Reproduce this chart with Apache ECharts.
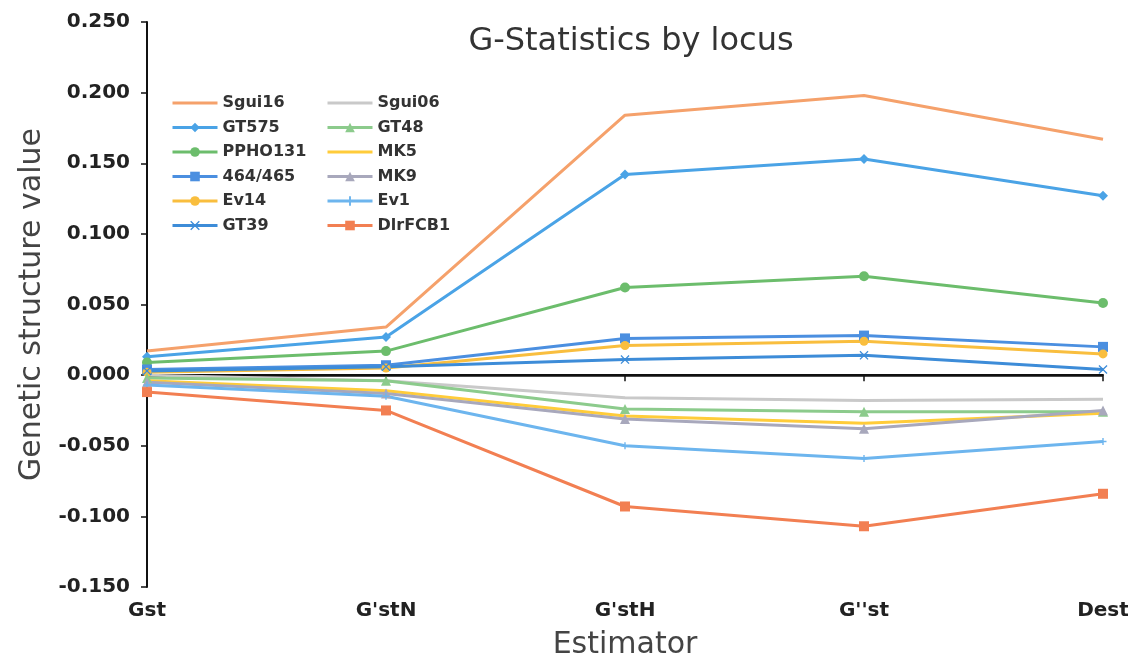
<!DOCTYPE html>
<html><head><meta charset="utf-8">
<script src="https://cdn.jsdelivr.net/npm/echarts@6/dist/echarts.min.js"></script>
<style>html,body{margin:0;padding:0;background:#fff}#c{width:1128px;height:661px}</style>
</head><body><div id="c"></div>
<script>
var categories = ["Gst", "G'stN", "G'stH", "G''st", "Dest"];
var yTicks = [-0.15, -0.1, -0.05, 0, 0.05, 0.1, 0.15, 0.2, 0.25];

var Sgui16  = [0.017, 0.034, 0.184, 0.198, 0.167];
var GT575   = [0.013, 0.027, 0.142, 0.153, 0.127];
var PPHO131 = [0.009, 0.017, 0.062, 0.070, 0.051];
var L464_465= [0.004, 0.007, 0.026, 0.028, 0.020];
var Ev14    = [0.002, 0.005, 0.021, 0.024, 0.015];
var GT39    = [0.003, 0.006, 0.011, 0.014, 0.004];
var Sgui06  = [0.000, -0.004, -0.016, -0.018, -0.017];
var GT48    = [-0.002, -0.004, -0.024, -0.026, -0.026];
var MK5     = [-0.004, -0.011, -0.029, -0.034, -0.027];
var MK9     = [-0.005, -0.013, -0.031, -0.038, -0.025];
var Ev1     = [-0.007, -0.015, -0.050, -0.059, -0.047];
var DlrFCB1 = [-0.012, -0.025, -0.093, -0.107, -0.084];

var XMARK = 'path://M1,0L5,4L9,0L10,1L6,5L10,9L9,10L5,6L1,10L0,9L4,5L0,1Z';
var PLUS = 'path://M4,0H6V4H10V6H6V10H4V6H0V4H4Z';

var seriesDefs = [
  {name:'Sgui16', data:Sgui16, color:'#F5A16B', symbol:'none', size:0},
  {name:'GT575', data:GT575, color:'#4AA3E6', symbol:'diamond', size:10},
  {name:'PPHO131', data:PPHO131, color:'#6CBD6C', symbol:'circle', size:10},
  {name:'464/465', data:L464_465, color:'#4B8FE0', symbol:'rect', size:10},
  {name:'Ev14', data:Ev14, color:'#F9BE3E', symbol:'circle', size:9},
  {name:'GT39', data:GT39, color:'#3D8CD8', symbol:XMARK, size:9},
  {name:'Sgui06', data:Sgui06, color:'#C9C9C9', symbol:'none', size:0},
  {name:'GT48', data:GT48, color:'#8CCB8C', symbol:'triangle', size:10},
  {name:'MK5', data:MK5, color:'#FFCC3A', symbol:'none', size:0},
  {name:'MK9', data:MK9, color:'#A8A8BC', symbol:'triangle', size:10},
  {name:'Ev1', data:Ev1, color:'#6DB5EE', symbol:PLUS, size:7},
  {name:'DlrFCB1', data:DlrFCB1, color:'#F27F52', symbol:'rect', size:10}
];

var series = seriesDefs.map(function(s, i){
  var o = {
    name: s.name, type:'line', data: s.data,
    symbol: s.symbol, symbolSize: s.size, showSymbol: s.size > 0,
    lineStyle:{width:3, color:s.color}, itemStyle:{color:s.color},
    z: 3
  };
  if (i === 0) {
    o.markLine = {silent:true, symbol:'none', label:{show:false},
      lineStyle:{color:'#111', width:2.5, type:'solid'},
      data:[{yAxis:0}], z:2};
  }
  return o;
});

function legendData(names){
  return names.map(function(n){
    var d = seriesDefs.filter(function(s){return s.name===n;})[0];
    if (d.symbol === 'none') {
      return {name:n, itemStyle:{color:'rgba(0,0,0,0)', opacity:0, borderWidth:0}};
    }
    return {name:n};
  });
}

var font = "'DejaVu Sans', 'Noto Sans', sans-serif";
var legendText = {fontFamily:font, fontSize:16, fontWeight:'bold', color:'#333'};
var chart = echarts.init(document.getElementById('c'));
chart.setOption({
  animation:false,
  backgroundColor:'#fff',
  title:{text:'G-Statistics by locus', left:626, top:21, textAlign:'center',
    textStyle:{fontFamily:font, fontSize:32, fontWeight:'normal', color:'#333'}},
  legend:[
    {orient:'vertical', left:166, top:90, itemWidth:45, itemHeight:12, itemGap:8.5,
     lineStyle:{width:3},
     data:legendData(['Sgui16','GT575','PPHO131','464/465','Ev14','GT39']), textStyle:legendText},
    {orient:'vertical', left:321, top:90, itemWidth:45, itemHeight:12, itemGap:8.5,
     lineStyle:{width:3},
     data:legendData(['Sgui06','GT48','MK5','MK9','Ev1','DlrFCB1']), textStyle:legendText}
  ],
  grid:{left:147, right:25, top:22, bottom:74, containLabel:false, outerBoundsMode:'none'},
  xAxis:{type:'category', data:categories, boundaryGap:false,
    name:'Estimator', nameLocation:'middle', nameGap:43,
    nameTextStyle:{fontFamily:font, fontSize:30, color:'#444'},
    axisLine:{lineStyle:{color:'#111', width:2}},
    axisTick:{show:true, length:6, lineStyle:{color:'#111', width:1.5}},
    axisLabel:{fontFamily:font, fontSize:20, fontWeight:'bold', color:'#222', margin:14},
    splitLine:{show:false}},
  yAxis:{type:'value', min:-0.15, max:0.25, interval:0.05,
    name:'Genetic structure value', nameLocation:'middle', nameGap:100,
    nameTextStyle:{fontFamily:font, fontSize:30, color:'#444'},
    axisLine:{show:true, lineStyle:{color:'#111', width:2}},
    axisTick:{show:true, length:6, lineStyle:{color:'#111', width:1.5}},
    axisLabel:{fontFamily:font, fontSize:20, fontWeight:'bold', color:'#222', margin:17,
      formatter:function(v){ return v.toFixed(3); }},
    splitLine:{show:false}},
  series: series
});
</script></body></html>
